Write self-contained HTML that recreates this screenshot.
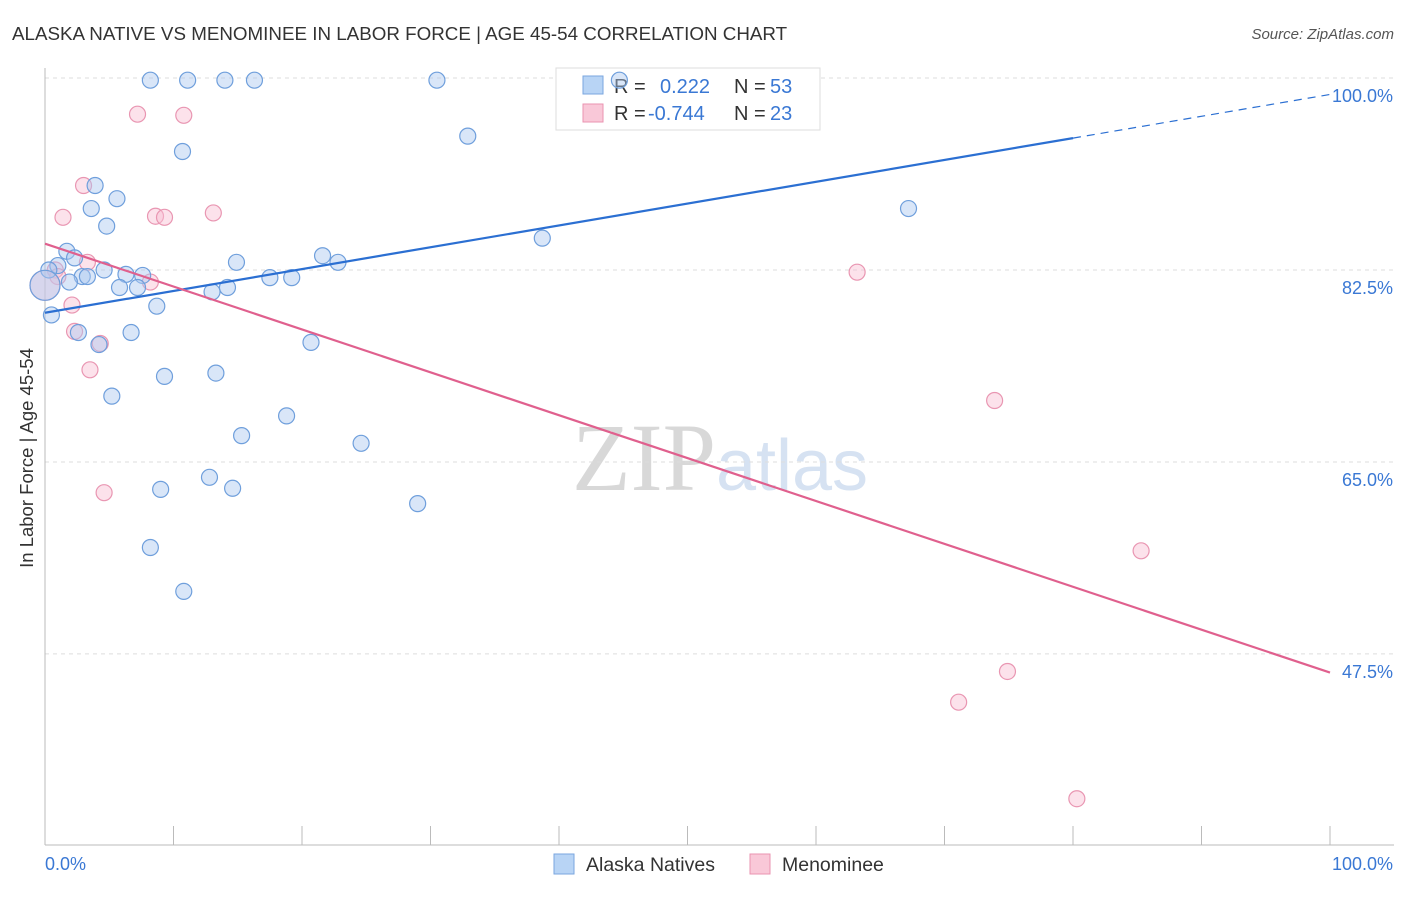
<!DOCTYPE html>
<html><head><meta charset="utf-8"><style>
body{margin:0;background:#fff;font-family:"Liberation Sans",sans-serif}
svg text{font-family:"Liberation Sans",sans-serif}
</style></head><body>
<svg id="c" width="1406" height="892">
<text x="12" y="40" font-size="18.8" fill="#333">ALASKA NATIVE VS MENOMINEE IN LABOR FORCE | AGE 45-54 CORRELATION CHART</text>
<text x="1394" y="39" font-size="15" fill="#555" font-style="italic" text-anchor="end">Source: ZipAtlas.com</text>
<text x="33" y="458" font-size="18.5" fill="#333" text-anchor="middle" transform="rotate(-90 33 458)">In Labor Force | Age 45-54</text>
<text x="720" y="490" font-size="96" fill="#ddd" text-anchor="middle"><tspan font-family="Liberation Serif" fill="#d8d8d8">ZIP</tspan><tspan fill="#d6e2f2" font-size="72">atlas</tspan></text>
<g id="grid"></g>
<g>
<rect x="556" y="68" width="264" height="62" fill="#fff" stroke="#ddd"/>
<rect x="583" y="76" width="20" height="18" fill="#b8d4f5" stroke="#7aa6df"/>
<rect x="583" y="104" width="20" height="18" fill="#f9c8d8" stroke="#ea93b0"/>
<text y="93" font-size="20" fill="#333"><tspan x="614">R =</tspan><tspan x="660" fill="#3a78d4">0.222</tspan><tspan x="734">N =</tspan><tspan x="770" fill="#3a78d4">53</tspan></text>
<text y="120" font-size="20" fill="#333"><tspan x="614">R =</tspan><tspan x="648" fill="#3a78d4">-0.744</tspan><tspan x="734">N =</tspan><tspan x="770" fill="#3a78d4">23</tspan></text>
</g>
<g id="marks"></g>
<g>
<rect x="554" y="854" width="20" height="20" fill="#b8d4f5" stroke="#7aa6df"/>
<text x="586" y="871" font-size="19.5" fill="#333">Alaska Natives</text>
<rect x="750" y="854" width="20" height="20" fill="#f9c8d8" stroke="#ea93b0"/>
<text x="782" y="871" font-size="19.5" fill="#333">Menominee</text>
</g>
</svg>
<script>
const yTicks=[47.5,65.0,82.5,100.0];
const xTickLabels=["0.0%","100.0%"];
const blueX=[8.2,11.1,14.0,16.3,30.5,44.7,32.9,10.7,3.9,5.6,3.6,67.2,4.8,38.7,1.7,2.3,14.9,21.6,22.8,1.0,0.3,4.6,6.3,7.6,2.9,3.3,17.5,19.2,1.9,5.8,7.2,14.2,13.0,8.7,0.5,2.6,6.7,4.2,20.7,9.3,13.3,5.2,18.8,15.3,24.6,12.8,9.0,14.6,29.0,8.2,10.8,0];
const blueY=[99.8,99.8,99.8,99.8,99.8,99.8,94.7,93.3,90.2,89.0,88.1,88.1,86.5,85.4,84.2,83.6,83.2,83.8,83.2,82.9,82.5,82.5,82.1,82.0,81.9,81.9,81.8,81.8,81.4,80.9,80.9,80.9,80.5,79.2,78.4,76.8,76.8,75.7,75.9,72.8,73.1,71.0,69.2,67.4,66.7,63.6,62.5,62.6,61.2,57.2,53.2,81.1];
const pinkX=[7.2,10.8,3.0,1.4,8.6,9.3,13.1,3.3,0.8,1.0,8.2,2.1,2.3,4.3,3.5,4.6,63.2,73.9,85.3,74.9,71.1,80.3,0];
const pinkY=[96.7,96.6,90.2,87.3,87.4,87.3,87.7,83.2,82.5,81.9,81.4,79.3,76.9,75.8,73.4,62.2,82.3,70.6,56.9,45.9,43.1,34.3,81.1];
const blueTrend=[78.6,98.5]; // at x=0 and x=100
const pinkTrend=[84.9,45.8];
const X=v=>45+v*12.85, Y=v=>78+(100-v)*10.97;
const NS="http://www.w3.org/2000/svg";
function mk(t,a,p){const e=document.createElementNS(NS,t);for(const k in a)e.setAttribute(k,a[k]);p.appendChild(e);return e;}
const g=document.getElementById('grid'),m=document.getElementById('marks');
yTicks.forEach(t=>{const l=mk('line',{x1:45,x2:1394,y1:Y(t),y2:Y(t),stroke:'#ddd','stroke-dasharray':'4,4'},g);


const tx=mk('text',{x:1393,y:Y(t)+24,'font-size':18,fill:'#3a78d4','text-anchor':'end'},g);tx.textContent=t.toFixed(1)+'%';

});
const ax=mk('line',{x1:45,x2:1394,y1:845,y2:845,stroke:'#bbb'},g);


const ay=mk('line',{x1:45,x2:45,y1:68,y2:845,stroke:'#bbb'},g);


for(let i=0;i<=10;i++){const t=mk('line',{x1:X(i*10),x2:X(i*10),y1:826,y2:845,stroke:'#bbb'},g);

}
[[0,'start',45],[1,'end',1393]].forEach(([i,a,x])=>{const t=mk('text',{x:x,y:870,'font-size':18,fill:'#3a78d4','text-anchor':a},g);t.textContent=xTickLabels[i];

});
function dots(xs,ys,fill,stroke,name){xs.forEach((x,i)=>{const big=(x===0);const c=mk('circle',{cx:X(x),cy:Y(ys[i]),r:big?15:8,fill:fill,stroke:stroke,'stroke-width':1.2},m);

});}
dots(pinkX,pinkY,'rgba(249,190,210,0.45)','#e996b2','menominee-point');
dots(blueX,blueY,'rgba(170,200,240,0.45)','#6f9fdc','alaska-native-point');
const bt=v=>blueTrend[0]+(blueTrend[1]-blueTrend[0])*v/100;
const b1=mk('line',{x1:X(0),y1:Y(bt(0)),x2:X(80),y2:Y(bt(80)),stroke:'#2b6fd2','stroke-width':2.2},m);


const b2=mk('line',{x1:X(80),y1:Y(bt(80)),x2:X(100),y2:Y(bt(100)),stroke:'#2b6fd2','stroke-width':1.2,'stroke-dasharray':'8,6'},m);


const p1=mk('line',{x1:X(0),y1:Y(pinkTrend[0]),x2:X(100),y2:Y(pinkTrend[1]),stroke:'#e0608e','stroke-width':2.2},m);


</script>
</body></html>
